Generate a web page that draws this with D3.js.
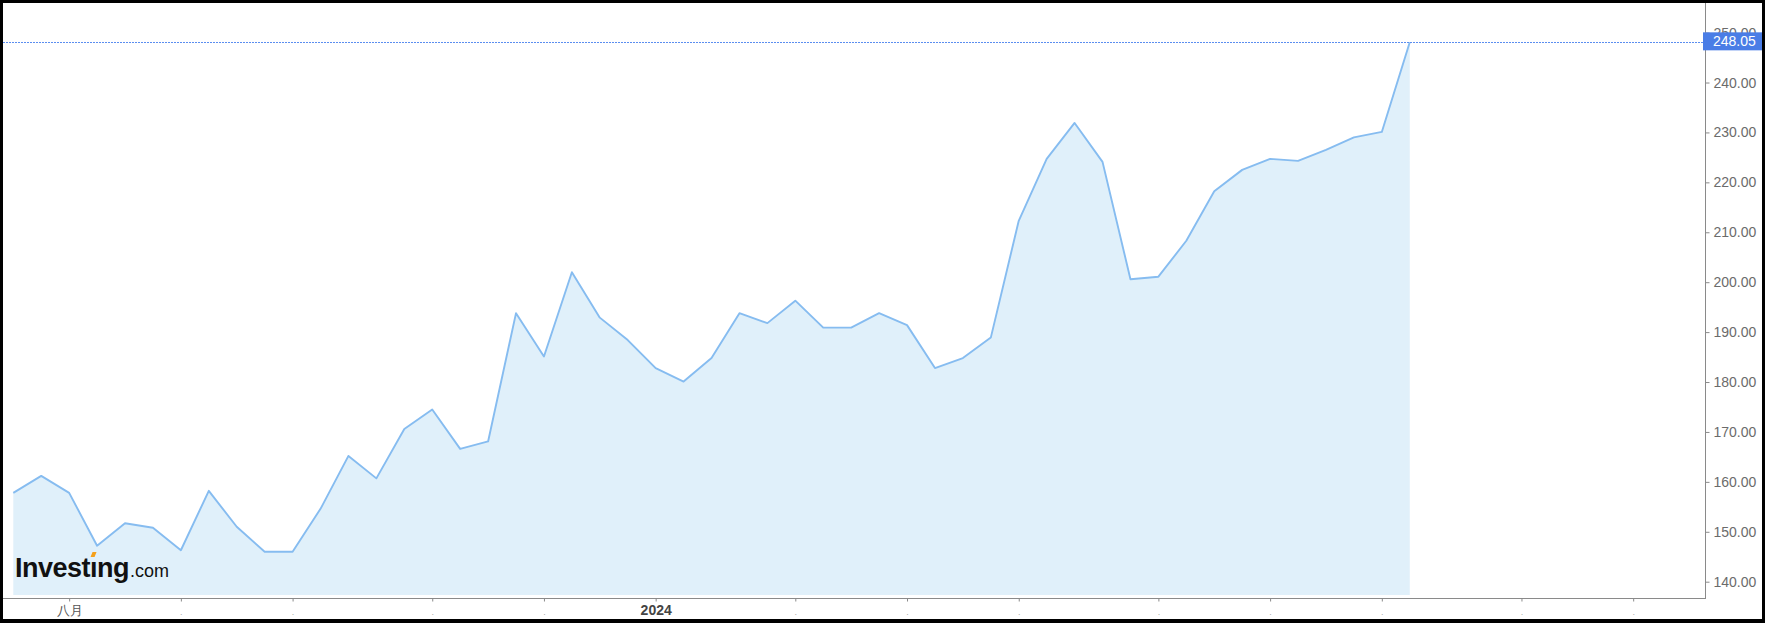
<!DOCTYPE html>
<html><head><meta charset="utf-8">
<script src="https://cdn.jsdelivr.net/npm/d3@7"></script>
<style>body{margin:0;background:#fff}svg{display:block}text{font-family:"Liberation Sans",Arial,sans-serif}</style>
</head><body><svg id="c" width="1765" height="623"></svg>
<script>
// ---- data ----
const firstWeek = new Date(2023, 6, 24);   // weekly closes, Mondays
const values = [157.8, 161.2, 157.8, 147.2, 151.7, 150.8, 146.3, 158.2, 151.0, 146.0,
                146.0, 154.6, 165.2, 160.7, 170.6, 174.5, 166.6, 168.1, 193.8, 185.1,
                202.0, 192.9, 188.4, 182.8, 180.1, 184.8, 193.8, 191.8, 196.3, 190.9,
                190.9, 193.8, 191.4, 182.8, 184.8, 188.9, 212.3, 224.7, 231.9, 224.1,
                200.6, 201.1, 208.3, 218.2, 222.5, 224.7, 224.3, 226.5, 229.0, 230.1, 248.05];
const lastValue = 248.05;
const yTicks = [140, 150, 160, 170, 180, 190, 200, 210, 220, 230, 240, 250];
const xTickDates = ["2023-08-07","2023-09-04","2023-10-02","2023-11-06","2023-12-04","2024-01-01",
                    "2024-02-05","2024-03-04","2024-04-01","2024-05-06","2024-06-03","2024-07-01",
                    "2024-08-05","2024-09-02"];
const xTickLabels = ["八月",".",".",".",".","2024",".",".",".",".",".",".",".","."];
const domainEnd = new Date(2024, 8, 20);

// ---- layout ----
const svg = d3.select("#c");
const W = 1765, H = 623;
const axisX = 1705, axisY = 598, plotBottom = 595;

svg.append("rect").attr("width", W).attr("height", H).attr("fill", "#000");
svg.append("rect").attr("x", 3).attr("y", 3).attr("width", 1759).attr("height", 616).attr("fill", "#fff");

const parse = s => { const [a,b,c] = s.split("-").map(Number); return new Date(a, b-1, c); };
const dates = values.map((v, i) => d3.timeDay.offset(firstWeek, 7 * i));
const data = values.map((v, i) => ({d: dates[i], v}));

const x = d3.scaleTime().domain([firstWeek, domainEnd]).range([13.3, axisX]);
const y = d3.scaleLinear().domain([140, 250]).range([581.7, 32.6]);

// area + line
svg.append("path").datum(data)
  .attr("d", d3.area().x(d => x(d.d)).y0(plotBottom).y1(d => y(d.v)))
  .attr("fill", "#e0f0fa");
svg.append("path").datum(data)
  .attr("d", d3.line().x(d => x(d.d)).y(d => y(d.v)))
  .attr("fill", "none").attr("stroke", "#86bcf0").attr("stroke-width", 1.9).attr("stroke-linejoin", "round");

// dotted last-value line
svg.append("line").attr("x1", 3).attr("x2", axisX).attr("y1", Math.round(y(lastValue)) + 0.5).attr("y2", Math.round(y(lastValue)) + 0.5)
  .attr("stroke", "#5b8ef0").attr("stroke-width", 1).attr("stroke-dasharray", "2,1");

// frame lines
svg.append("line").attr("x1", axisX + 0.5).attr("x2", axisX + 0.5).attr("y1", 3).attr("y2", axisY + 1)
  .attr("stroke", "#8a8a8a");
svg.append("line").attr("x1", 3).attr("x2", axisX + 1).attr("y1", axisY + 0.5).attr("y2", axisY + 0.5)
  .attr("stroke", "#8a8a8a");

// right axis
const ya = svg.append("g").attr("transform", `translate(${axisX + 0.5},0)`)
  .call(d3.axisRight(y).tickValues(yTicks).tickSize(4).tickPadding(4).tickFormat(d3.format(".2f")));
ya.select(".domain").remove();
ya.selectAll(".tick line").attr("stroke", "#8a8a8a");
ya.selectAll(".tick text").attr("fill", "#6b6b6b").style("font-size", "14px");

// bottom axis
const tickDates = xTickDates.map(parse);
const xa = svg.append("g").attr("transform", `translate(0,${axisY + 0.5})`)
  .call(d3.axisBottom(x).tickValues(tickDates).tickSize(3).tickPadding(2).tickFormat((d, i) => xTickLabels[i]));
xa.select(".domain").remove();
xa.selectAll(".tick line").attr("stroke", "#8a8a8a");
xa.selectAll(".tick text").each(function(d, i) {
  const t = d3.select(this);
  const lab = xTickLabels[i];
  if (lab === ".") { t.attr("fill", "#aaa").style("font-size", "9px").attr("dy", "1.25em"); }
  else if (lab === "2024") { t.attr("fill", "#444").style("font-size", "14px").style("font-weight", "bold").attr("dy", "0.85em"); }
  else { t.attr("fill", "#555").style("font-size", "13px").attr("dy", "0.85em"); }
});

// last value label box
const ly = y(lastValue);
svg.append("rect").attr("x", 1703).attr("y", ly - 10).attr("width", 59).attr("height", 18).attr("fill", "#4a7de6");
svg.append("text").attr("x", 1713).attr("y", ly - 1).attr("dy", "0.35em")
  .attr("fill", "#fff").style("font-size", "14px").text(lastValue.toFixed(2));

// logo
const logo = svg.append("text").attr("x", 15).attr("y", 577).attr("fill", "#111");
logo.append("tspan").style("font-size", "27px").style("font-weight", "bold").attr("letter-spacing", "-0.5").text("Investıng");
logo.append("tspan").style("font-size", "18px").attr("dx", 1).text(".com");
const ext = logo.node().getExtentOfChar(6);
svg.append("path")
  .attr("d", `M${ext.x + ext.width/2 - 1},${552} l4,0 l-2,5 l-4,0 z`)
  .attr("fill", "#f5a01a");
</script></body></html>
